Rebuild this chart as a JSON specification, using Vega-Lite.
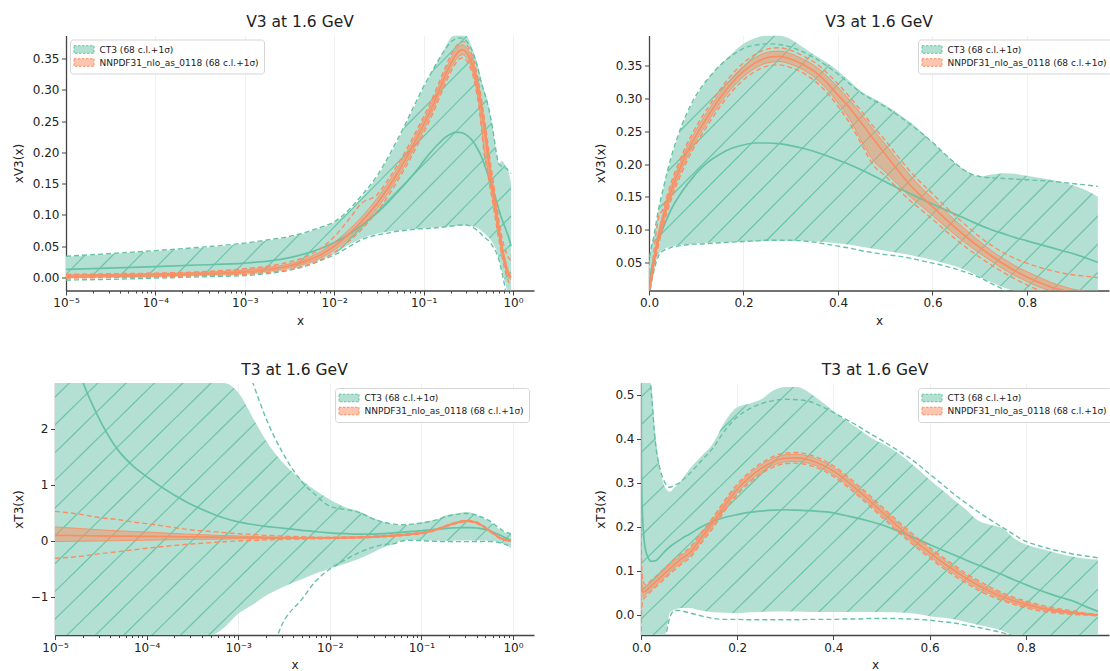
{
"$schema": "https://vega.github.io/schema/vega-lite/v6.json",
"padding": {"left": 12, "top": 14.5, "right": 0, "bottom": 0},
"config": {
 "font": "DejaVu Sans",
 "view": {"stroke": null},
 "title": {"font": "DejaVu Sans", "fontSize": 15.5, "fontWeight": "normal", "color": "#222222", "frame": "group", "anchor": "middle", "offset": 5},
 "axis": {"labelFont": "DejaVu Sans", "labelFontSize": 12, "labelColor": "#222222", "titleFont": "DejaVu Sans", "titleFontSize": 12, "titleFontWeight": "normal", "titleColor": "#222222", "domainColor": "#444444", "domainWidth": 1.3, "tickColor": "#444444", "tickWidth": 1, "tickSize": 4.5, "labelPadding": 2.5, "gridColor": "#ececec", "gridWidth": 0.8, "labelFlush": false, "labelOverlap": false},
 "legend": {"labelFont": "DejaVu Sans", "labelFontSize": 9, "labelColor": "#222222", "symbolType": "M-2,-0.75H2V0.75H-2Z", "symbolSize": 100, "symbolStrokeWidth": 1, "symbolDash": [2.5, 1.5], "symbolOffset": 4, "fillColor": "#ffffff", "strokeColor": "#d5d5d5", "cornerRadius": 3, "padding": 4.5, "rowPadding": 0, "labelOffset": 10, "labelLimit": 300, "symbolOpacity": 1}
},
"datasets": {
 "v3": [
  {"x":1e-5,"c":0.013,"lo":-0.002,"hi":0.033,"dlo":-0.004,"dhi":0.034,"n":0.002,"nlo":0.0,"nhi":0.004,"ndlo":-0.001,"ndhi":0.005},
  {"x":3e-5,"c":0.015,"lo":-0.001,"hi":0.037,"dlo":-0.003,"dhi":0.038,"n":0.003,"nlo":0.001,"nhi":0.005,"ndlo":0.0,"ndhi":0.006},
  {"x":1e-4,"c":0.0175,"lo":0.0,"hi":0.042,"dlo":-0.001,"dhi":0.043,"n":0.004,"nlo":0.002,"nhi":0.006,"ndlo":0.001,"ndhi":0.007},
  {"x":3e-4,"c":0.02,"lo":0.002,"hi":0.047,"dlo":0.001,"dhi":0.048,"n":0.006,"nlo":0.004,"nhi":0.008,"ndlo":0.003,"ndhi":0.009},
  {"x":1e-3,"c":0.023,"lo":0.004,"hi":0.054,"dlo":0.003,"dhi":0.055,"n":0.009,"nlo":0.007,"nhi":0.012,"ndlo":0.005,"ndhi":0.014},
  {"x":2e-3,"c":0.027,"lo":0.008,"hi":0.06,"dlo":0.007,"dhi":0.061,"n":0.014,"nlo":0.011,"nhi":0.017,"ndlo":0.009,"ndhi":0.019},
  {"x":3e-3,"c":0.031,"lo":0.012,"hi":0.064,"dlo":0.011,"dhi":0.065,"n":0.018,"nlo":0.015,"nhi":0.021,"ndlo":0.012,"ndhi":0.024},
  {"x":5e-3,"c":0.039,"lo":0.02,"hi":0.072,"dlo":0.019,"dhi":0.073,"n":0.027,"nlo":0.023,"nhi":0.031,"ndlo":0.02,"ndhi":0.034},
  {"x":7e-3,"c":0.046,"lo":0.028,"hi":0.079,"dlo":0.027,"dhi":0.08,"n":0.036,"nlo":0.031,"nhi":0.041,"ndlo":0.028,"ndhi":0.046},
  {"x":0.01,"c":0.056,"lo":0.038,"hi":0.088,"dlo":0.036,"dhi":0.089,"n":0.05,"nlo":0.044,"nhi":0.056,"ndlo":0.04,"ndhi":0.065},
  {"x":0.015,"c":0.07,"lo":0.053,"hi":0.108,"dlo":0.05,"dhi":0.11,"n":0.071,"nlo":0.064,"nhi":0.078,"ndlo":0.059,"ndhi":0.095},
  {"x":0.02,"c":0.083,"lo":0.062,"hi":0.128,"dlo":0.06,"dhi":0.13,"n":0.089,"nlo":0.082,"nhi":0.096,"ndlo":0.076,"ndhi":0.118},
  {"x":0.03,"c":0.103,"lo":0.07,"hi":0.16,"dlo":0.068,"dhi":0.162,"n":0.118,"nlo":0.11,"nhi":0.126,"ndlo":0.105,"ndhi":0.132},
  {"x":0.04,"c":0.12,"lo":0.073,"hi":0.19,"dlo":0.071,"dhi":0.192,"n":0.143,"nlo":0.135,"nhi":0.151,"ndlo":0.13,"ndhi":0.156},
  {"x":0.05,"c":0.135,"lo":0.075,"hi":0.215,"dlo":0.074,"dhi":0.218,"n":0.165,"nlo":0.157,"nhi":0.173,"ndlo":0.152,"ndhi":0.178},
  {"x":0.06,"c":0.147,"lo":0.076,"hi":0.238,"dlo":0.075,"dhi":0.24,"n":0.184,"nlo":0.176,"nhi":0.192,"ndlo":0.171,"ndhi":0.197},
  {"x":0.07,"c":0.158,"lo":0.077,"hi":0.258,"dlo":0.076,"dhi":0.26,"n":0.201,"nlo":0.193,"nhi":0.209,"ndlo":0.188,"ndhi":0.214},
  {"x":0.08,"c":0.168,"lo":0.078,"hi":0.275,"dlo":0.077,"dhi":0.277,"n":0.217,"nlo":0.209,"nhi":0.225,"ndlo":0.204,"ndhi":0.23},
  {"x":0.09,"c":0.177,"lo":0.078,"hi":0.29,"dlo":0.078,"dhi":0.292,"n":0.231,"nlo":0.223,"nhi":0.239,"ndlo":0.218,"ndhi":0.244},
  {"x":0.1,"c":0.186,"lo":0.079,"hi":0.303,"dlo":0.078,"dhi":0.305,"n":0.244,"nlo":0.236,"nhi":0.252,"ndlo":0.231,"ndhi":0.257},
  {"x":0.125,"c":0.203,"lo":0.08,"hi":0.33,"dlo":0.079,"dhi":0.33,"n":0.273,"nlo":0.265,"nhi":0.281,"ndlo":0.26,"ndhi":0.286},
  {"x":0.15,"c":0.215,"lo":0.081,"hi":0.35,"dlo":0.08,"dhi":0.35,"n":0.3,"nlo":0.292,"nhi":0.308,"ndlo":0.287,"ndhi":0.313},
  {"x":0.175,"c":0.224,"lo":0.081,"hi":0.368,"dlo":0.081,"dhi":0.365,"n":0.323,"nlo":0.315,"nhi":0.331,"ndlo":0.31,"ndhi":0.336},
  {"x":0.2,"c":0.229,"lo":0.082,"hi":0.383,"dlo":0.082,"dhi":0.376,"n":0.341,"nlo":0.333,"nhi":0.349,"ndlo":0.328,"ndhi":0.354},
  {"x":0.225,"c":0.232,"lo":0.082,"hi":0.392,"dlo":0.083,"dhi":0.381,"n":0.354,"nlo":0.346,"nhi":0.362,"ndlo":0.341,"ndhi":0.367},
  {"x":0.25,"c":0.232,"lo":0.083,"hi":0.396,"dlo":0.084,"dhi":0.383,"n":0.362,"nlo":0.354,"nhi":0.37,"ndlo":0.349,"ndhi":0.375},
  {"x":0.275,"c":0.231,"lo":0.083,"hi":0.396,"dlo":0.084,"dhi":0.382,"n":0.364,"nlo":0.356,"nhi":0.372,"ndlo":0.351,"ndhi":0.377},
  {"x":0.3,"c":0.228,"lo":0.083,"hi":0.39,"dlo":0.084,"dhi":0.378,"n":0.36,"nlo":0.352,"nhi":0.368,"ndlo":0.347,"ndhi":0.373},
  {"x":0.325,"c":0.224,"lo":0.083,"hi":0.378,"dlo":0.083,"dhi":0.371,"n":0.352,"nlo":0.344,"nhi":0.36,"ndlo":0.339,"ndhi":0.365},
  {"x":0.35,"c":0.219,"lo":0.082,"hi":0.366,"dlo":0.081,"dhi":0.362,"n":0.341,"nlo":0.332,"nhi":0.35,"ndlo":0.327,"ndhi":0.355},
  {"x":0.375,"c":0.213,"lo":0.081,"hi":0.355,"dlo":0.078,"dhi":0.35,"n":0.325,"nlo":0.315,"nhi":0.335,"ndlo":0.31,"ndhi":0.34},
  {"x":0.4,"c":0.206,"lo":0.079,"hi":0.342,"dlo":0.075,"dhi":0.337,"n":0.305,"nlo":0.293,"nhi":0.317,"ndlo":0.288,"ndhi":0.322},
  {"x":0.425,"c":0.199,"lo":0.077,"hi":0.326,"dlo":0.072,"dhi":0.322,"n":0.285,"nlo":0.268,"nhi":0.297,"ndlo":0.262,"ndhi":0.302},
  {"x":0.45,"c":0.191,"lo":0.074,"hi":0.31,"dlo":0.068,"dhi":0.308,"n":0.262,"nlo":0.235,"nhi":0.275,"ndlo":0.23,"ndhi":0.28},
  {"x":0.475,"c":0.182,"lo":0.071,"hi":0.3,"dlo":0.065,"dhi":0.297,"n":0.238,"nlo":0.205,"nhi":0.252,"ndlo":0.198,"ndhi":0.257},
  {"x":0.5,"c":0.173,"lo":0.068,"hi":0.29,"dlo":0.062,"dhi":0.287,"n":0.215,"nlo":0.188,"nhi":0.23,"ndlo":0.182,"ndhi":0.236},
  {"x":0.525,"c":0.164,"lo":0.065,"hi":0.278,"dlo":0.06,"dhi":0.275,"n":0.192,"nlo":0.17,"nhi":0.207,"ndlo":0.164,"ndhi":0.213},
  {"x":0.55,"c":0.156,"lo":0.062,"hi":0.265,"dlo":0.057,"dhi":0.262,"n":0.17,"nlo":0.152,"nhi":0.185,"ndlo":0.146,"ndhi":0.191},
  {"x":0.575,"c":0.147,"lo":0.058,"hi":0.25,"dlo":0.053,"dhi":0.248,"n":0.152,"nlo":0.137,"nhi":0.165,"ndlo":0.131,"ndhi":0.172},
  {"x":0.6,"c":0.139,"lo":0.054,"hi":0.233,"dlo":0.049,"dhi":0.233,"n":0.135,"nlo":0.122,"nhi":0.148,"ndlo":0.116,"ndhi":0.155},
  {"x":0.625,"c":0.131,"lo":0.049,"hi":0.216,"dlo":0.045,"dhi":0.216,"n":0.118,"nlo":0.106,"nhi":0.13,"ndlo":0.1,"ndhi":0.137},
  {"x":0.65,"c":0.123,"lo":0.044,"hi":0.2,"dlo":0.04,"dhi":0.2,"n":0.102,"nlo":0.091,"nhi":0.113,"ndlo":0.085,"ndhi":0.12},
  {"x":0.675,"c":0.115,"lo":0.037,"hi":0.188,"dlo":0.034,"dhi":0.187,"n":0.087,"nlo":0.077,"nhi":0.097,"ndlo":0.071,"ndhi":0.104},
  {"x":0.7,"c":0.107,"lo":0.028,"hi":0.181,"dlo":0.027,"dhi":0.181,"n":0.073,"nlo":0.064,"nhi":0.082,"ndlo":0.058,"ndhi":0.089},
  {"x":0.725,"c":0.1,"lo":0.02,"hi":0.184,"dlo":0.018,"dhi":0.179,"n":0.06,"nlo":0.052,"nhi":0.068,"ndlo":0.046,"ndhi":0.076},
  {"x":0.75,"c":0.094,"lo":0.012,"hi":0.186,"dlo":0.009,"dhi":0.178,"n":0.048,"nlo":0.04,"nhi":0.056,"ndlo":0.035,"ndhi":0.065},
  {"x":0.775,"c":0.088,"lo":0.005,"hi":0.185,"dlo":0.0,"dhi":0.177,"n":0.037,"nlo":0.03,"nhi":0.045,"ndlo":0.025,"ndhi":0.056},
  {"x":0.8,"c":0.083,"lo":-0.003,"hi":0.182,"dlo":-0.01,"dhi":0.176,"n":0.028,"nlo":0.021,"nhi":0.036,"ndlo":0.016,"ndhi":0.049},
  {"x":0.825,"c":0.078,"lo":-0.01,"hi":0.179,"dlo":-0.02,"dhi":0.175,"n":0.02,"nlo":0.013,"nhi":0.028,"ndlo":0.008,"ndhi":0.043},
  {"x":0.85,"c":0.073,"lo":-0.018,"hi":0.176,"dlo":-0.03,"dhi":0.174,"n":0.013,"nlo":0.007,"nhi":0.02,"ndlo":0.001,"ndhi":0.038},
  {"x":0.875,"c":0.068,"lo":-0.026,"hi":0.172,"dlo":-0.04,"dhi":0.172,"n":0.008,"nlo":0.002,"nhi":0.014,"ndlo":-0.004,"ndhi":0.034},
  {"x":0.9,"c":0.063,"lo":-0.034,"hi":0.167,"dlo":-0.05,"dhi":0.17,"n":0.004,"nlo":-0.001,"nhi":0.009,"ndlo":-0.008,"ndhi":0.031},
  {"x":0.925,"c":0.057,"lo":-0.04,"hi":0.16,"dlo":-0.06,"dhi":0.168,"n":0.002,"nlo":-0.003,"nhi":0.006,"ndlo":-0.01,"ndhi":0.029},
  {"x":0.95,"c":0.05,"lo":-0.045,"hi":0.15,"dlo":-0.07,"dhi":0.166,"n":0.0,"nlo":-0.004,"nhi":0.004,"ndlo":-0.012,"ndhi":0.027}
 ],
 "t3": [
  {"x":1e-5,"c":4.5,"lo":-6,"hi":12,"dlo":-30,"dhi":30,"n":0.1,"nlo":-0.01,"nhi":0.25,"ndlo":-0.31,"ndhi":0.53},
  {"x":2e-5,"c":2.85,"lo":-5.2,"hi":10,"dlo":-25,"dhi":25,"n":0.095,"nlo":-0.005,"nhi":0.22,"ndlo":-0.27,"ndhi":0.47},
  {"x":3e-5,"c":2.2,"lo":-4.7,"hi":9,"dlo":-21,"dhi":21,"n":0.092,"nlo":0.0,"nhi":0.2,"ndlo":-0.23,"ndhi":0.42},
  {"x":5e-5,"c":1.6,"lo":-4.1,"hi":8,"dlo":-17,"dhi":17,"n":0.088,"nlo":0.005,"nhi":0.18,"ndlo":-0.19,"ndhi":0.38},
  {"x":7e-5,"c":1.35,"lo":-3.7,"hi":7.2,"dlo":-15,"dhi":15,"n":0.085,"nlo":0.01,"nhi":0.17,"ndlo":-0.16,"ndhi":0.34},
  {"x":1e-4,"c":1.15,"lo":-3.4,"hi":6.5,"dlo":-12,"dhi":12,"n":0.083,"nlo":0.015,"nhi":0.16,"ndlo":-0.13,"ndhi":0.31},
  {"x":2e-4,"c":0.82,"lo":-2.7,"hi":5.0,"dlo":-9,"dhi":9,"n":0.077,"nlo":0.022,"nhi":0.135,"ndlo":-0.08,"ndhi":0.24},
  {"x":3e-4,"c":0.66,"lo":-2.3,"hi":4.3,"dlo":-7.5,"dhi":7.5,"n":0.073,"nlo":0.026,"nhi":0.12,"ndlo":-0.055,"ndhi":0.2},
  {"x":5e-4,"c":0.5,"lo":-1.9,"hi":3.5,"dlo":-5.5,"dhi":5.5,"n":0.068,"nlo":0.03,"nhi":0.105,"ndlo":-0.03,"ndhi":0.17},
  {"x":7e-4,"c":0.41,"lo":-1.55,"hi":3.05,"dlo":-4.5,"dhi":4.5,"n":0.065,"nlo":0.033,"nhi":0.097,"ndlo":-0.013,"ndhi":0.15},
  {"x":1e-3,"c":0.34,"lo":-1.3,"hi":2.65,"dlo":-3.6,"dhi":3.6,"n":0.062,"nlo":0.036,"nhi":0.09,"ndlo":0.0,"ndhi":0.13},
  {"x":1.5e-3,"c":0.29,"lo":-1.12,"hi":2.15,"dlo":-2.8,"dhi":2.75,"n":0.059,"nlo":0.038,"nhi":0.082,"ndlo":0.01,"ndhi":0.115},
  {"x":2e-3,"c":0.26,"lo":-0.98,"hi":1.8,"dlo":-2.3,"dhi":2.2,"n":0.056,"nlo":0.04,"nhi":0.075,"ndlo":0.02,"ndhi":0.1},
  {"x":3e-3,"c":0.23,"lo":-0.83,"hi":1.42,"dlo":-1.5,"dhi":1.6,"n":0.054,"nlo":0.041,"nhi":0.069,"ndlo":0.027,"ndhi":0.088},
  {"x":5e-3,"c":0.19,"lo":-0.68,"hi":1.08,"dlo":-1.03,"dhi":1.05,"n":0.052,"nlo":0.043,"nhi":0.064,"ndlo":0.035,"ndhi":0.075},
  {"x":7e-3,"c":0.165,"lo":-0.58,"hi":0.9,"dlo":-0.72,"dhi":0.82,"n":0.053,"nlo":0.045,"nhi":0.063,"ndlo":0.039,"ndhi":0.07},
  {"x":0.01,"c":0.145,"lo":-0.49,"hi":0.74,"dlo":-0.5,"dhi":0.62,"n":0.055,"nlo":0.047,"nhi":0.063,"ndlo":0.042,"ndhi":0.068},
  {"x":0.015,"c":0.13,"lo":-0.4,"hi":0.6,"dlo":-0.33,"dhi":0.56,"n":0.06,"nlo":0.052,"nhi":0.068,"ndlo":0.048,"ndhi":0.072},
  {"x":0.02,"c":0.122,"lo":-0.33,"hi":0.54,"dlo":-0.22,"dhi":0.52,"n":0.065,"nlo":0.057,"nhi":0.073,"ndlo":0.053,"ndhi":0.077},
  {"x":0.03,"c":0.123,"lo":-0.2,"hi":0.41,"dlo":-0.11,"dhi":0.39,"n":0.075,"nlo":0.067,"nhi":0.083,"ndlo":0.063,"ndhi":0.087},
  {"x":0.04,"c":0.133,"lo":-0.1,"hi":0.33,"dlo":-0.06,"dhi":0.33,"n":0.085,"nlo":0.077,"nhi":0.093,"ndlo":0.073,"ndhi":0.097},
  {"x":0.05,"c":0.145,"lo":-0.06,"hi":0.29,"dlo":-0.05,"dhi":0.3,"n":0.095,"nlo":0.087,"nhi":0.103,"ndlo":0.083,"ndhi":0.107},
  {"x":0.06,"c":0.155,"lo":0.005,"hi":0.28,"dlo":-0.005,"dhi":0.29,"n":0.105,"nlo":0.097,"nhi":0.113,"ndlo":0.093,"ndhi":0.117},
  {"x":0.07,"c":0.163,"lo":0.012,"hi":0.29,"dlo":0.01,"dhi":0.295,"n":0.115,"nlo":0.107,"nhi":0.123,"ndlo":0.103,"ndhi":0.127},
  {"x":0.08,"c":0.17,"lo":0.015,"hi":0.3,"dlo":0.01,"dhi":0.3,"n":0.124,"nlo":0.116,"nhi":0.132,"ndlo":0.112,"ndhi":0.136},
  {"x":0.09,"c":0.177,"lo":0.016,"hi":0.315,"dlo":0.008,"dhi":0.31,"n":0.132,"nlo":0.124,"nhi":0.14,"ndlo":0.12,"ndhi":0.144},
  {"x":0.1,"c":0.183,"lo":0.016,"hi":0.33,"dlo":0.005,"dhi":0.32,"n":0.14,"nlo":0.132,"nhi":0.148,"ndlo":0.128,"ndhi":0.152},
  {"x":0.125,"c":0.2,"lo":0.01,"hi":0.36,"dlo":-0.002,"dhi":0.35,"n":0.175,"nlo":0.167,"nhi":0.183,"ndlo":0.163,"ndhi":0.187},
  {"x":0.15,"c":0.213,"lo":0.006,"hi":0.39,"dlo":-0.008,"dhi":0.38,"n":0.21,"nlo":0.202,"nhi":0.218,"ndlo":0.198,"ndhi":0.222},
  {"x":0.175,"c":0.222,"lo":0.005,"hi":0.44,"dlo":-0.01,"dhi":0.42,"n":0.25,"nlo":0.242,"nhi":0.258,"ndlo":0.238,"ndhi":0.262},
  {"x":0.2,"c":0.228,"lo":0.004,"hi":0.472,"dlo":-0.01,"dhi":0.45,"n":0.285,"nlo":0.277,"nhi":0.293,"ndlo":0.273,"ndhi":0.297},
  {"x":0.225,"c":0.233,"lo":0.006,"hi":0.48,"dlo":-0.011,"dhi":0.468,"n":0.312,"nlo":0.304,"nhi":0.32,"ndlo":0.3,"ndhi":0.324},
  {"x":0.25,"c":0.236,"lo":0.007,"hi":0.49,"dlo":-0.011,"dhi":0.48,"n":0.333,"nlo":0.325,"nhi":0.341,"ndlo":0.321,"ndhi":0.345},
  {"x":0.275,"c":0.238,"lo":0.008,"hi":0.51,"dlo":-0.011,"dhi":0.487,"n":0.348,"nlo":0.34,"nhi":0.356,"ndlo":0.336,"ndhi":0.36},
  {"x":0.3,"c":0.239,"lo":0.008,"hi":0.518,"dlo":-0.011,"dhi":0.49,"n":0.356,"nlo":0.348,"nhi":0.364,"ndlo":0.344,"ndhi":0.368},
  {"x":0.325,"c":0.238,"lo":0.008,"hi":0.518,"dlo":-0.011,"dhi":0.489,"n":0.357,"nlo":0.349,"nhi":0.365,"ndlo":0.345,"ndhi":0.369},
  {"x":0.35,"c":0.237,"lo":0.007,"hi":0.505,"dlo":-0.01,"dhi":0.485,"n":0.352,"nlo":0.344,"nhi":0.36,"ndlo":0.34,"ndhi":0.364},
  {"x":0.375,"c":0.235,"lo":0.007,"hi":0.485,"dlo":-0.01,"dhi":0.474,"n":0.342,"nlo":0.334,"nhi":0.35,"ndlo":0.33,"ndhi":0.354},
  {"x":0.4,"c":0.232,"lo":0.007,"hi":0.463,"dlo":-0.01,"dhi":0.46,"n":0.327,"nlo":0.319,"nhi":0.335,"ndlo":0.315,"ndhi":0.339},
  {"x":0.425,"c":0.226,"lo":0.007,"hi":0.443,"dlo":-0.009,"dhi":0.445,"n":0.307,"nlo":0.299,"nhi":0.315,"ndlo":0.295,"ndhi":0.319},
  {"x":0.45,"c":0.22,"lo":0.007,"hi":0.425,"dlo":-0.009,"dhi":0.43,"n":0.284,"nlo":0.276,"nhi":0.292,"ndlo":0.272,"ndhi":0.296},
  {"x":0.475,"c":0.213,"lo":0.007,"hi":0.405,"dlo":-0.008,"dhi":0.413,"n":0.26,"nlo":0.252,"nhi":0.268,"ndlo":0.248,"ndhi":0.272},
  {"x":0.5,"c":0.205,"lo":0.007,"hi":0.39,"dlo":-0.008,"dhi":0.397,"n":0.235,"nlo":0.227,"nhi":0.243,"ndlo":0.223,"ndhi":0.247},
  {"x":0.525,"c":0.195,"lo":0.006,"hi":0.375,"dlo":-0.008,"dhi":0.38,"n":0.21,"nlo":0.202,"nhi":0.218,"ndlo":0.198,"ndhi":0.222},
  {"x":0.55,"c":0.184,"lo":0.005,"hi":0.355,"dlo":-0.009,"dhi":0.363,"n":0.186,"nlo":0.178,"nhi":0.194,"ndlo":0.174,"ndhi":0.198},
  {"x":0.575,"c":0.172,"lo":0.002,"hi":0.332,"dlo":-0.01,"dhi":0.343,"n":0.163,"nlo":0.155,"nhi":0.171,"ndlo":0.151,"ndhi":0.175},
  {"x":0.6,"c":0.16,"lo":-0.003,"hi":0.307,"dlo":-0.012,"dhi":0.32,"n":0.142,"nlo":0.134,"nhi":0.15,"ndlo":0.13,"ndhi":0.154},
  {"x":0.625,"c":0.148,"lo":-0.006,"hi":0.285,"dlo":-0.015,"dhi":0.298,"n":0.121,"nlo":0.113,"nhi":0.129,"ndlo":0.109,"ndhi":0.133},
  {"x":0.65,"c":0.137,"lo":-0.01,"hi":0.262,"dlo":-0.018,"dhi":0.275,"n":0.102,"nlo":0.094,"nhi":0.11,"ndlo":0.09,"ndhi":0.114},
  {"x":0.675,"c":0.125,"lo":-0.016,"hi":0.24,"dlo":-0.023,"dhi":0.255,"n":0.084,"nlo":0.077,"nhi":0.091,"ndlo":0.073,"ndhi":0.095},
  {"x":0.7,"c":0.114,"lo":-0.022,"hi":0.215,"dlo":-0.028,"dhi":0.235,"n":0.068,"nlo":0.061,"nhi":0.075,"ndlo":0.057,"ndhi":0.079},
  {"x":0.725,"c":0.103,"lo":-0.028,"hi":0.205,"dlo":-0.034,"dhi":0.217,"n":0.054,"nlo":0.048,"nhi":0.06,"ndlo":0.044,"ndhi":0.064},
  {"x":0.75,"c":0.092,"lo":-0.035,"hi":0.198,"dlo":-0.04,"dhi":0.2,"n":0.042,"nlo":0.036,"nhi":0.048,"ndlo":0.033,"ndhi":0.051},
  {"x":0.775,"c":0.08,"lo":-0.045,"hi":0.175,"dlo":-0.048,"dhi":0.183,"n":0.032,"nlo":0.027,"nhi":0.037,"ndlo":0.024,"ndhi":0.04},
  {"x":0.8,"c":0.069,"lo":-0.055,"hi":0.16,"dlo":-0.055,"dhi":0.167,"n":0.024,"nlo":0.019,"nhi":0.029,"ndlo":0.016,"ndhi":0.032},
  {"x":0.825,"c":0.058,"lo":-0.063,"hi":0.152,"dlo":-0.062,"dhi":0.158,"n":0.017,"nlo":0.013,"nhi":0.021,"ndlo":0.01,"ndhi":0.024},
  {"x":0.85,"c":0.048,"lo":-0.07,"hi":0.145,"dlo":-0.07,"dhi":0.15,"n":0.012,"nlo":0.009,"nhi":0.015,"ndlo":0.006,"ndhi":0.018},
  {"x":0.875,"c":0.039,"lo":-0.08,"hi":0.138,"dlo":-0.077,"dhi":0.144,"n":0.008,"nlo":0.005,"nhi":0.011,"ndlo":0.003,"ndhi":0.013},
  {"x":0.9,"c":0.031,"lo":-0.1,"hi":0.132,"dlo":-0.085,"dhi":0.138,"n":0.005,"nlo":0.003,"nhi":0.007,"ndlo":0.001,"ndhi":0.009},
  {"x":0.925,"c":0.019,"lo":-0.12,"hi":0.128,"dlo":-0.092,"dhi":0.134,"n":0.002,"nlo":0.001,"nhi":0.003,"ndlo":0.0,"ndhi":0.004},
  {"x":0.95,"c":0.008,"lo":-0.14,"hi":0.126,"dlo":-0.1,"dhi":0.13,"n":0.0,"nlo":-0.001,"nhi":0.001,"ndlo":-0.002,"ndhi":0.002}
 ]
},
"spacing": 35.5,
"resolve": {"scale": {"color": "independent"}, "legend": {"color": "independent"}},
"vconcat": [
 {
  "spacing": 60,
  "resolve": {"scale": {"color": "independent"}, "legend": {"color": "independent"}},
  "hconcat": [
   {
    "bounds": "flush",
    "spacing": 10,
    "resolve": {"scale": {"color": "independent"}, "legend": {"color": "independent"}},
    "hconcat": [
     {"width": 1, "height": 1, "data": {"values": []}, "mark": "point"},
     {
      "width": 468, "height": 255,
      "title": "V3 at 1.6 GeV",
      "data": {"name": "v3"},
      "encoding": {"x": {"field": "x", "type": "quantitative",
        "scale": {"type": "log", "domain": [1e-5, 1.718], "nice": false},
        "axis": {"title": "x", "titleY": 30, "titleBaseline": "middle",
          "values": [1e-5,2e-5,3e-5,4e-5,5e-5,6e-5,7e-5,8e-5,9e-5,1e-4,2e-4,3e-4,4e-4,5e-4,6e-4,7e-4,8e-4,9e-4,1e-3,2e-3,3e-3,4e-3,5e-3,6e-3,7e-3,8e-3,9e-3,0.01,0.02,0.03,0.04,0.05,0.06,0.07,0.08,0.09,0.1,0.2,0.3,0.4,0.5,0.6,0.7,0.8,0.9,1],
          "labelExpr": "abs(log(datum.value)/LN10 - round(log(datum.value)/LN10)) < 0.001 ? '10' + ['⁻⁵','⁻⁴','⁻³','⁻²','⁻¹','⁰'][round(log(datum.value)/LN10)+5] : ''",
          "tickSize": {"condition": {"test": "abs(log(datum.value)/LN10 - round(log(datum.value)/LN10)) < 0.001", "value": 4.5}, "value": 2.5},
          "gridOpacity": {"condition": {"test": "abs(log(datum.value)/LN10 - round(log(datum.value)/LN10)) < 0.001", "value": 1}, "value": 0}}}},
      "layer": [
       {"layer": [
        {"mark": {"type": "area", "clip": true, "interpolate": "monotone", "fill": {"gradient": "linear", "x1": 0, "y1": 0, "x2": 1.197, "y2": 0.676, "stops": [
  {"offset":0,"color":"#b3e0d2"},
  {"offset":0.0178,"color":"#b3e0d2"},{"offset":0.02,"color":"#66c2a5"},{"offset":0.0222,"color":"#b3e0d2"},
  {"offset":0.0572,"color":"#b3e0d2"},{"offset":0.0594,"color":"#66c2a5"},{"offset":0.0616,"color":"#b3e0d2"},
  {"offset":0.0966,"color":"#b3e0d2"},{"offset":0.0988,"color":"#66c2a5"},{"offset":0.101,"color":"#b3e0d2"},
  {"offset":0.136,"color":"#b3e0d2"},{"offset":0.1382,"color":"#66c2a5"},{"offset":0.1404,"color":"#b3e0d2"},
  {"offset":0.1754,"color":"#b3e0d2"},{"offset":0.1776,"color":"#66c2a5"},{"offset":0.1798,"color":"#b3e0d2"},
  {"offset":0.2148,"color":"#b3e0d2"},{"offset":0.217,"color":"#66c2a5"},{"offset":0.2192,"color":"#b3e0d2"},
  {"offset":0.2542,"color":"#b3e0d2"},{"offset":0.2564,"color":"#66c2a5"},{"offset":0.2586,"color":"#b3e0d2"},
  {"offset":0.2936,"color":"#b3e0d2"},{"offset":0.2958,"color":"#66c2a5"},{"offset":0.298,"color":"#b3e0d2"},
  {"offset":0.333,"color":"#b3e0d2"},{"offset":0.3352,"color":"#66c2a5"},{"offset":0.3374,"color":"#b3e0d2"},
  {"offset":0.3724,"color":"#b3e0d2"},{"offset":0.3746,"color":"#66c2a5"},{"offset":0.3768,"color":"#b3e0d2"},
  {"offset":0.4118,"color":"#b3e0d2"},{"offset":0.414,"color":"#66c2a5"},{"offset":0.4162,"color":"#b3e0d2"},
  {"offset":0.4512,"color":"#b3e0d2"},{"offset":0.4534,"color":"#66c2a5"},{"offset":0.4556,"color":"#b3e0d2"},
  {"offset":0.4906,"color":"#b3e0d2"},{"offset":0.4928,"color":"#66c2a5"},{"offset":0.495,"color":"#b3e0d2"},
  {"offset":0.53,"color":"#b3e0d2"},{"offset":0.5322,"color":"#66c2a5"},{"offset":0.5344,"color":"#b3e0d2"},
  {"offset":0.5694,"color":"#b3e0d2"},{"offset":0.5716,"color":"#66c2a5"},{"offset":0.5738,"color":"#b3e0d2"},
  {"offset":0.6088,"color":"#b3e0d2"},{"offset":0.611,"color":"#66c2a5"},{"offset":0.6132,"color":"#b3e0d2"},
  {"offset":0.6482,"color":"#b3e0d2"},{"offset":0.6504,"color":"#66c2a5"},{"offset":0.6526,"color":"#b3e0d2"},
  {"offset":0.6876,"color":"#b3e0d2"},{"offset":0.6898,"color":"#66c2a5"},{"offset":0.692,"color":"#b3e0d2"},
  {"offset":0.727,"color":"#b3e0d2"},{"offset":0.7292,"color":"#66c2a5"},{"offset":0.7314,"color":"#b3e0d2"},
  {"offset":0.7664,"color":"#b3e0d2"},{"offset":0.7686,"color":"#66c2a5"},{"offset":0.7708,"color":"#b3e0d2"},
  {"offset":0.8058,"color":"#b3e0d2"},{"offset":0.808,"color":"#66c2a5"},{"offset":0.8102,"color":"#b3e0d2"},
  {"offset":0.8452,"color":"#b3e0d2"},{"offset":0.8474,"color":"#66c2a5"},{"offset":0.8496,"color":"#b3e0d2"},
  {"offset":0.8846,"color":"#b3e0d2"},{"offset":0.8868,"color":"#66c2a5"},{"offset":0.889,"color":"#b3e0d2"},
  {"offset":0.924,"color":"#b3e0d2"},{"offset":0.9262,"color":"#66c2a5"},{"offset":0.9284,"color":"#b3e0d2"},
  {"offset":0.9634,"color":"#b3e0d2"},{"offset":0.9656,"color":"#66c2a5"},{"offset":0.9678,"color":"#b3e0d2"},
  {"offset":1,"color":"#b3e0d2"}]}},
         "encoding": {"y": {"field": "lo", "type": "quantitative", "scale": {"domain": [-0.0208, 0.3868], "nice": false, "zero": false, "clamp": true}, "axis": null}, "y2": {"field": "hi"}}},
        {"mark": {"type": "area", "fill": "#fc8d62", "opacity": 0.5, "clip": true, "interpolate": "monotone"},
         "encoding": {"y": {"field": "nlo", "type": "quantitative", "axis": null}, "y2": {"field": "nhi"}}}
       ]},
       {"layer": [
        {"mark": {"type": "line", "clip": true, "interpolate": "monotone", "color": "#66c2a5", "strokeWidth": 1.4, "strokeDash": [5, 3]},
         "encoding": {"y": {"field": "dlo", "type": "quantitative", "scale": {"domain": [-0.0208, 0.3868], "nice": false, "zero": false}, "axis": null}}},
        {"mark": {"type": "line", "clip": true, "interpolate": "monotone", "color": "#66c2a5", "strokeWidth": 1.4, "strokeDash": [5, 3]}, "encoding": {"y": {"field": "dhi", "type": "quantitative", "axis": null}}},
        {"mark": {"type": "line", "clip": true, "interpolate": "monotone", "color": "#66c2a5", "strokeWidth": 1.7}, "encoding": {"y": {"field": "c", "type": "quantitative", "axis": null}}},
        {"mark": {"type": "line", "clip": true, "interpolate": "monotone", "color": "#fc8d62", "strokeWidth": 0.9}, "encoding": {"y": {"field": "nlo", "type": "quantitative", "axis": null}}},
        {"mark": {"type": "line", "clip": true, "interpolate": "monotone", "color": "#fc8d62", "strokeWidth": 0.9}, "encoding": {"y": {"field": "nhi", "type": "quantitative", "axis": null}}},
        {"mark": {"type": "line", "clip": true, "interpolate": "monotone", "color": "#fc8d62", "strokeWidth": 1.4, "strokeDash": [5, 3]}, "encoding": {"y": {"field": "ndlo", "type": "quantitative", "axis": null}}},
        {"mark": {"type": "line", "clip": true, "interpolate": "monotone", "color": "#fc8d62", "strokeWidth": 1.4, "strokeDash": [5, 3]}, "encoding": {"y": {"field": "ndhi", "type": "quantitative", "axis": null}}},
        {"mark": {"type": "line", "clip": true, "interpolate": "monotone", "color": "#fc8d62", "strokeWidth": 1.7}, "encoding": {"y": {"field": "n", "type": "quantitative", "axis": null}}},
        {"data": {"values": []}, "mark": {"type": "point", "filled": true, "opacity": 1},
         "encoding": {"color": {"datum": "CT3 (68 c.l.+1σ)", "type": "nominal",
           "scale": {"domain": ["CT3 (68 c.l.+1σ)", "NNPDF31_nlo_as_0118 (68 c.l.+1σ)"], "range": ["#b3e0d2", "#fdc6b0"]},
           "legend": {"title": null, "orient": "none", "legendX": 4, "legendY": 4,
             "encode": {"symbols": {"update": {"stroke": {"signal": "indexof(datum.value, 'CT3') === 0 ? '#66c2a5' : '#fc8d62'"}}}}}}}}
       ]},
       {"data": {"values": []}, "mark": {"type": "point"},
        "encoding": {"y": {"field": "c", "type": "quantitative", "scale": {"domain": [-0.0208, 0.3868], "nice": false, "zero": false},
          "axis": {"title": "xV3(x)", "orient": "left", "values": [0,0.05,0.1,0.15,0.2,0.25,0.3,0.35], "format": ".2f", "labelOverlap": false, "tickCount": 8, "titleX": -48, "titleY": 127.5, "titleBaseline": "middle", "titleAngle": -90}}}}
      ],
      "resolve": {"scale": {"y": "independent"}}
     }
    ]
   },
   {
    "width": 460, "height": 255,
    "title": "V3 at 1.6 GeV",
    "data": {"name": "v3"},
    "encoding": {"x": {"field": "x", "type": "quantitative",
      "scale": {"domain": [0, 0.9736], "nice": false, "zero": false},
      "axis": {"title": "x", "titleY": 30, "titleBaseline": "middle", "values": [0, 0.2, 0.4, 0.6, 0.8], "format": ".1f"}}},
    "layer": [
     {"layer": [
      {"mark": {"type": "area", "clip": true, "interpolate": "monotone", "fill": {"gradient": "linear", "x1": 0, "y1": 0, "x2": 1.197, "y2": 0.676, "stops": [
  {"offset":0,"color":"#b3e0d2"},
  {"offset":0.0178,"color":"#b3e0d2"},{"offset":0.02,"color":"#66c2a5"},{"offset":0.0222,"color":"#b3e0d2"},
  {"offset":0.0572,"color":"#b3e0d2"},{"offset":0.0594,"color":"#66c2a5"},{"offset":0.0616,"color":"#b3e0d2"},
  {"offset":0.0966,"color":"#b3e0d2"},{"offset":0.0988,"color":"#66c2a5"},{"offset":0.101,"color":"#b3e0d2"},
  {"offset":0.136,"color":"#b3e0d2"},{"offset":0.1382,"color":"#66c2a5"},{"offset":0.1404,"color":"#b3e0d2"},
  {"offset":0.1754,"color":"#b3e0d2"},{"offset":0.1776,"color":"#66c2a5"},{"offset":0.1798,"color":"#b3e0d2"},
  {"offset":0.2148,"color":"#b3e0d2"},{"offset":0.217,"color":"#66c2a5"},{"offset":0.2192,"color":"#b3e0d2"},
  {"offset":0.2542,"color":"#b3e0d2"},{"offset":0.2564,"color":"#66c2a5"},{"offset":0.2586,"color":"#b3e0d2"},
  {"offset":0.2936,"color":"#b3e0d2"},{"offset":0.2958,"color":"#66c2a5"},{"offset":0.298,"color":"#b3e0d2"},
  {"offset":0.333,"color":"#b3e0d2"},{"offset":0.3352,"color":"#66c2a5"},{"offset":0.3374,"color":"#b3e0d2"},
  {"offset":0.3724,"color":"#b3e0d2"},{"offset":0.3746,"color":"#66c2a5"},{"offset":0.3768,"color":"#b3e0d2"},
  {"offset":0.4118,"color":"#b3e0d2"},{"offset":0.414,"color":"#66c2a5"},{"offset":0.4162,"color":"#b3e0d2"},
  {"offset":0.4512,"color":"#b3e0d2"},{"offset":0.4534,"color":"#66c2a5"},{"offset":0.4556,"color":"#b3e0d2"},
  {"offset":0.4906,"color":"#b3e0d2"},{"offset":0.4928,"color":"#66c2a5"},{"offset":0.495,"color":"#b3e0d2"},
  {"offset":0.53,"color":"#b3e0d2"},{"offset":0.5322,"color":"#66c2a5"},{"offset":0.5344,"color":"#b3e0d2"},
  {"offset":0.5694,"color":"#b3e0d2"},{"offset":0.5716,"color":"#66c2a5"},{"offset":0.5738,"color":"#b3e0d2"},
  {"offset":0.6088,"color":"#b3e0d2"},{"offset":0.611,"color":"#66c2a5"},{"offset":0.6132,"color":"#b3e0d2"},
  {"offset":0.6482,"color":"#b3e0d2"},{"offset":0.6504,"color":"#66c2a5"},{"offset":0.6526,"color":"#b3e0d2"},
  {"offset":0.6876,"color":"#b3e0d2"},{"offset":0.6898,"color":"#66c2a5"},{"offset":0.692,"color":"#b3e0d2"},
  {"offset":0.727,"color":"#b3e0d2"},{"offset":0.7292,"color":"#66c2a5"},{"offset":0.7314,"color":"#b3e0d2"},
  {"offset":0.7664,"color":"#b3e0d2"},{"offset":0.7686,"color":"#66c2a5"},{"offset":0.7708,"color":"#b3e0d2"},
  {"offset":0.8058,"color":"#b3e0d2"},{"offset":0.808,"color":"#66c2a5"},{"offset":0.8102,"color":"#b3e0d2"},
  {"offset":0.8452,"color":"#b3e0d2"},{"offset":0.8474,"color":"#66c2a5"},{"offset":0.8496,"color":"#b3e0d2"},
  {"offset":0.8846,"color":"#b3e0d2"},{"offset":0.8868,"color":"#66c2a5"},{"offset":0.889,"color":"#b3e0d2"},
  {"offset":0.924,"color":"#b3e0d2"},{"offset":0.9262,"color":"#66c2a5"},{"offset":0.9284,"color":"#b3e0d2"},
  {"offset":0.9634,"color":"#b3e0d2"},{"offset":0.9656,"color":"#66c2a5"},{"offset":0.9678,"color":"#b3e0d2"},
  {"offset":1,"color":"#b3e0d2"}]}},
       "encoding": {"y": {"field": "lo", "type": "quantitative", "scale": {"domain": [0.0074, 0.3957], "nice": false, "zero": false, "clamp": true}, "axis": null}, "y2": {"field": "hi"}}},
      {"mark": {"type": "area", "fill": "#fc8d62", "opacity": 0.5, "clip": true, "interpolate": "monotone"},
       "encoding": {"y": {"field": "nlo", "type": "quantitative", "axis": null}, "y2": {"field": "nhi"}}}
     ]},
     {"layer": [
      {"mark": {"type": "line", "clip": true, "interpolate": "monotone", "color": "#66c2a5", "strokeWidth": 1.4, "strokeDash": [5, 3]},
       "encoding": {"y": {"field": "dlo", "type": "quantitative", "scale": {"domain": [0.0074, 0.3957], "nice": false, "zero": false},
         "axis": {"title": "xV3(x)", "orient": "left", "values": [0.05,0.1,0.15,0.2,0.25,0.3,0.35], "format": ".2f", "labelOverlap": false, "titleX": -49, "titleY": 127.5, "titleBaseline": "middle", "titleAngle": -90}}}},
      {"mark": {"type": "line", "clip": true, "interpolate": "monotone", "color": "#66c2a5", "strokeWidth": 1.4, "strokeDash": [5, 3]}, "encoding": {"y": {"field": "dhi", "type": "quantitative"}}},
      {"mark": {"type": "line", "clip": true, "interpolate": "monotone", "color": "#66c2a5", "strokeWidth": 1.7}, "encoding": {"y": {"field": "c", "type": "quantitative"}}},
      {"mark": {"type": "line", "clip": true, "interpolate": "monotone", "color": "#fc8d62", "strokeWidth": 0.9}, "encoding": {"y": {"field": "nlo", "type": "quantitative"}}},
      {"mark": {"type": "line", "clip": true, "interpolate": "monotone", "color": "#fc8d62", "strokeWidth": 0.9}, "encoding": {"y": {"field": "nhi", "type": "quantitative"}}},
      {"mark": {"type": "line", "clip": true, "interpolate": "monotone", "color": "#fc8d62", "strokeWidth": 1.4, "strokeDash": [5, 3]}, "encoding": {"y": {"field": "ndlo", "type": "quantitative"}}},
      {"mark": {"type": "line", "clip": true, "interpolate": "monotone", "color": "#fc8d62", "strokeWidth": 1.4, "strokeDash": [5, 3]}, "encoding": {"y": {"field": "ndhi", "type": "quantitative"}}},
      {"mark": {"type": "line", "clip": true, "interpolate": "monotone", "color": "#fc8d62", "strokeWidth": 1.7}, "encoding": {"y": {"field": "n", "type": "quantitative"}}},
      {"data": {"values": []}, "mark": {"type": "point", "filled": true, "opacity": 1},
       "encoding": {"color": {"datum": "CT3 (68 c.l.+1σ)", "type": "nominal",
         "scale": {"domain": ["CT3 (68 c.l.+1σ)", "NNPDF31_nlo_as_0118 (68 c.l.+1σ)"], "range": ["#b3e0d2", "#fdc6b0"]},
         "legend": {"title": null, "orient": "none", "legendX": 269, "legendY": 4,
           "encode": {"symbols": {"update": {"stroke": {"signal": "indexof(datum.value, 'CT3') === 0 ? '#66c2a5' : '#fc8d62'"}}}}}}}}
     ]}
    ],
    "resolve": {"scale": {"y": "independent"}}
   }
  ]
 },
 {
  "bounds": "flush",
  "spacing": 107,
  "resolve": {"scale": {"color": "independent"}, "legend": {"color": "independent"}},
  "hconcat": [
   {
    "width": 479, "height": 252,
    "title": "T3 at 1.6 GeV",
    "data": {"name": "t3"},
    "encoding": {"x": {"field": "x", "type": "quantitative",
      "scale": {"type": "log", "domain": [1e-5, 1.695], "nice": false},
      "axis": {"title": "x", "titleY": 29, "titleBaseline": "middle",
        "values": [1e-5,2e-5,3e-5,4e-5,5e-5,6e-5,7e-5,8e-5,9e-5,1e-4,2e-4,3e-4,4e-4,5e-4,6e-4,7e-4,8e-4,9e-4,1e-3,2e-3,3e-3,4e-3,5e-3,6e-3,7e-3,8e-3,9e-3,0.01,0.02,0.03,0.04,0.05,0.06,0.07,0.08,0.09,0.1,0.2,0.3,0.4,0.5,0.6,0.7,0.8,0.9,1],
        "labelExpr": "abs(log(datum.value)/LN10 - round(log(datum.value)/LN10)) < 0.001 ? '10' + ['⁻⁵','⁻⁴','⁻³','⁻²','⁻¹','⁰'][round(log(datum.value)/LN10)+5] : ''",
        "tickSize": {"condition": {"test": "abs(log(datum.value)/LN10 - round(log(datum.value)/LN10)) < 0.001", "value": 4.5}, "value": 2.5},
        "gridOpacity": {"condition": {"test": "abs(log(datum.value)/LN10 - round(log(datum.value)/LN10)) < 0.001", "value": 1}, "value": 0}}}},
    "layer": [
     {"layer": [
      {"mark": {"type": "area", "clip": true, "interpolate": "monotone", "fill": {"gradient": "linear", "x1": 0, "y1": 0, "x2": 1.197, "y2": 0.676, "stops": [
  {"offset":0,"color":"#b3e0d2"},
  {"offset":0.0178,"color":"#b3e0d2"},{"offset":0.02,"color":"#66c2a5"},{"offset":0.0222,"color":"#b3e0d2"},
  {"offset":0.0572,"color":"#b3e0d2"},{"offset":0.0594,"color":"#66c2a5"},{"offset":0.0616,"color":"#b3e0d2"},
  {"offset":0.0966,"color":"#b3e0d2"},{"offset":0.0988,"color":"#66c2a5"},{"offset":0.101,"color":"#b3e0d2"},
  {"offset":0.136,"color":"#b3e0d2"},{"offset":0.1382,"color":"#66c2a5"},{"offset":0.1404,"color":"#b3e0d2"},
  {"offset":0.1754,"color":"#b3e0d2"},{"offset":0.1776,"color":"#66c2a5"},{"offset":0.1798,"color":"#b3e0d2"},
  {"offset":0.2148,"color":"#b3e0d2"},{"offset":0.217,"color":"#66c2a5"},{"offset":0.2192,"color":"#b3e0d2"},
  {"offset":0.2542,"color":"#b3e0d2"},{"offset":0.2564,"color":"#66c2a5"},{"offset":0.2586,"color":"#b3e0d2"},
  {"offset":0.2936,"color":"#b3e0d2"},{"offset":0.2958,"color":"#66c2a5"},{"offset":0.298,"color":"#b3e0d2"},
  {"offset":0.333,"color":"#b3e0d2"},{"offset":0.3352,"color":"#66c2a5"},{"offset":0.3374,"color":"#b3e0d2"},
  {"offset":0.3724,"color":"#b3e0d2"},{"offset":0.3746,"color":"#66c2a5"},{"offset":0.3768,"color":"#b3e0d2"},
  {"offset":0.4118,"color":"#b3e0d2"},{"offset":0.414,"color":"#66c2a5"},{"offset":0.4162,"color":"#b3e0d2"},
  {"offset":0.4512,"color":"#b3e0d2"},{"offset":0.4534,"color":"#66c2a5"},{"offset":0.4556,"color":"#b3e0d2"},
  {"offset":0.4906,"color":"#b3e0d2"},{"offset":0.4928,"color":"#66c2a5"},{"offset":0.495,"color":"#b3e0d2"},
  {"offset":0.53,"color":"#b3e0d2"},{"offset":0.5322,"color":"#66c2a5"},{"offset":0.5344,"color":"#b3e0d2"},
  {"offset":0.5694,"color":"#b3e0d2"},{"offset":0.5716,"color":"#66c2a5"},{"offset":0.5738,"color":"#b3e0d2"},
  {"offset":0.6088,"color":"#b3e0d2"},{"offset":0.611,"color":"#66c2a5"},{"offset":0.6132,"color":"#b3e0d2"},
  {"offset":0.6482,"color":"#b3e0d2"},{"offset":0.6504,"color":"#66c2a5"},{"offset":0.6526,"color":"#b3e0d2"},
  {"offset":0.6876,"color":"#b3e0d2"},{"offset":0.6898,"color":"#66c2a5"},{"offset":0.692,"color":"#b3e0d2"},
  {"offset":0.727,"color":"#b3e0d2"},{"offset":0.7292,"color":"#66c2a5"},{"offset":0.7314,"color":"#b3e0d2"},
  {"offset":0.7664,"color":"#b3e0d2"},{"offset":0.7686,"color":"#66c2a5"},{"offset":0.7708,"color":"#b3e0d2"},
  {"offset":0.8058,"color":"#b3e0d2"},{"offset":0.808,"color":"#66c2a5"},{"offset":0.8102,"color":"#b3e0d2"},
  {"offset":0.8452,"color":"#b3e0d2"},{"offset":0.8474,"color":"#66c2a5"},{"offset":0.8496,"color":"#b3e0d2"},
  {"offset":0.8846,"color":"#b3e0d2"},{"offset":0.8868,"color":"#66c2a5"},{"offset":0.889,"color":"#b3e0d2"},
  {"offset":0.924,"color":"#b3e0d2"},{"offset":0.9262,"color":"#66c2a5"},{"offset":0.9284,"color":"#b3e0d2"},
  {"offset":0.9634,"color":"#b3e0d2"},{"offset":0.9656,"color":"#66c2a5"},{"offset":0.9678,"color":"#b3e0d2"},
  {"offset":1,"color":"#b3e0d2"}]}},
       "encoding": {"y": {"field": "lo", "type": "quantitative", "scale": {"domain": [-1.679, 2.821], "nice": false, "zero": false, "clamp": true}, "axis": null}, "y2": {"field": "hi"}}},
      {"mark": {"type": "area", "fill": "#fc8d62", "opacity": 0.5, "clip": true, "interpolate": "monotone"},
       "encoding": {"y": {"field": "nlo", "type": "quantitative", "axis": null}, "y2": {"field": "nhi"}}}
     ]},
     {"layer": [
      {"mark": {"type": "line", "clip": true, "interpolate": "monotone", "color": "#66c2a5", "strokeWidth": 1.4, "strokeDash": [5, 3]},
       "encoding": {"y": {"field": "dlo", "type": "quantitative", "scale": {"domain": [-1.679, 2.821], "nice": false, "zero": false},
         "axis": {"title": "xT3(x)", "orient": "left", "values": [-1, 0, 1, 2], "format": "d", "labelOverlap": false, "titleX": -37, "titleY": 126, "titleBaseline": "middle", "titleAngle": -90}}}},
      {"mark": {"type": "line", "clip": true, "interpolate": "monotone", "color": "#66c2a5", "strokeWidth": 1.4, "strokeDash": [5, 3]}, "encoding": {"y": {"field": "dhi", "type": "quantitative"}}},
      {"mark": {"type": "line", "clip": true, "interpolate": "monotone", "color": "#66c2a5", "strokeWidth": 1.7}, "encoding": {"y": {"field": "c", "type": "quantitative"}}},
      {"mark": {"type": "line", "clip": true, "interpolate": "monotone", "color": "#fc8d62", "strokeWidth": 0.9}, "encoding": {"y": {"field": "nlo", "type": "quantitative"}}},
      {"mark": {"type": "line", "clip": true, "interpolate": "monotone", "color": "#fc8d62", "strokeWidth": 0.9}, "encoding": {"y": {"field": "nhi", "type": "quantitative"}}},
      {"mark": {"type": "line", "clip": true, "interpolate": "monotone", "color": "#fc8d62", "strokeWidth": 1.4, "strokeDash": [5, 3]}, "encoding": {"y": {"field": "ndlo", "type": "quantitative"}}},
      {"mark": {"type": "line", "clip": true, "interpolate": "monotone", "color": "#fc8d62", "strokeWidth": 1.4, "strokeDash": [5, 3]}, "encoding": {"y": {"field": "ndhi", "type": "quantitative"}}},
      {"mark": {"type": "line", "clip": true, "interpolate": "monotone", "color": "#fc8d62", "strokeWidth": 1.7}, "encoding": {"y": {"field": "n", "type": "quantitative"}}},
      {"data": {"values": []}, "mark": {"type": "point", "filled": true, "opacity": 1},
       "encoding": {"color": {"datum": "CT3 (68 c.l.+1σ)", "type": "nominal",
         "scale": {"domain": ["CT3 (68 c.l.+1σ)", "NNPDF31_nlo_as_0118 (68 c.l.+1σ)"], "range": ["#b3e0d2", "#fdc6b0"]},
         "legend": {"title": null, "orient": "none", "legendX": 280, "legendY": 5,
           "encode": {"symbols": {"update": {"stroke": {"signal": "indexof(datum.value, 'CT3') === 0 ? '#66c2a5' : '#fc8d62'"}}}}}}}}
     ]}
    ],
    "resolve": {"scale": {"y": "independent"}}
   },
   {
    "width": 468, "height": 252,
    "title": "T3 at 1.6 GeV",
    "data": {"name": "t3"},
    "encoding": {"x": {"field": "x", "type": "quantitative",
      "scale": {"domain": [0, 0.973], "nice": false, "zero": false},
      "axis": {"title": "x", "titleY": 29, "titleBaseline": "middle", "values": [0, 0.2, 0.4, 0.6, 0.8], "format": ".1f"}}},
    "layer": [
     {"layer": [
      {"mark": {"type": "area", "clip": true, "interpolate": "monotone", "fill": {"gradient": "linear", "x1": 0, "y1": 0, "x2": 1.197, "y2": 0.676, "stops": [
  {"offset":0,"color":"#b3e0d2"},
  {"offset":0.0178,"color":"#b3e0d2"},{"offset":0.02,"color":"#66c2a5"},{"offset":0.0222,"color":"#b3e0d2"},
  {"offset":0.0572,"color":"#b3e0d2"},{"offset":0.0594,"color":"#66c2a5"},{"offset":0.0616,"color":"#b3e0d2"},
  {"offset":0.0966,"color":"#b3e0d2"},{"offset":0.0988,"color":"#66c2a5"},{"offset":0.101,"color":"#b3e0d2"},
  {"offset":0.136,"color":"#b3e0d2"},{"offset":0.1382,"color":"#66c2a5"},{"offset":0.1404,"color":"#b3e0d2"},
  {"offset":0.1754,"color":"#b3e0d2"},{"offset":0.1776,"color":"#66c2a5"},{"offset":0.1798,"color":"#b3e0d2"},
  {"offset":0.2148,"color":"#b3e0d2"},{"offset":0.217,"color":"#66c2a5"},{"offset":0.2192,"color":"#b3e0d2"},
  {"offset":0.2542,"color":"#b3e0d2"},{"offset":0.2564,"color":"#66c2a5"},{"offset":0.2586,"color":"#b3e0d2"},
  {"offset":0.2936,"color":"#b3e0d2"},{"offset":0.2958,"color":"#66c2a5"},{"offset":0.298,"color":"#b3e0d2"},
  {"offset":0.333,"color":"#b3e0d2"},{"offset":0.3352,"color":"#66c2a5"},{"offset":0.3374,"color":"#b3e0d2"},
  {"offset":0.3724,"color":"#b3e0d2"},{"offset":0.3746,"color":"#66c2a5"},{"offset":0.3768,"color":"#b3e0d2"},
  {"offset":0.4118,"color":"#b3e0d2"},{"offset":0.414,"color":"#66c2a5"},{"offset":0.4162,"color":"#b3e0d2"},
  {"offset":0.4512,"color":"#b3e0d2"},{"offset":0.4534,"color":"#66c2a5"},{"offset":0.4556,"color":"#b3e0d2"},
  {"offset":0.4906,"color":"#b3e0d2"},{"offset":0.4928,"color":"#66c2a5"},{"offset":0.495,"color":"#b3e0d2"},
  {"offset":0.53,"color":"#b3e0d2"},{"offset":0.5322,"color":"#66c2a5"},{"offset":0.5344,"color":"#b3e0d2"},
  {"offset":0.5694,"color":"#b3e0d2"},{"offset":0.5716,"color":"#66c2a5"},{"offset":0.5738,"color":"#b3e0d2"},
  {"offset":0.6088,"color":"#b3e0d2"},{"offset":0.611,"color":"#66c2a5"},{"offset":0.6132,"color":"#b3e0d2"},
  {"offset":0.6482,"color":"#b3e0d2"},{"offset":0.6504,"color":"#66c2a5"},{"offset":0.6526,"color":"#b3e0d2"},
  {"offset":0.6876,"color":"#b3e0d2"},{"offset":0.6898,"color":"#66c2a5"},{"offset":0.692,"color":"#b3e0d2"},
  {"offset":0.727,"color":"#b3e0d2"},{"offset":0.7292,"color":"#66c2a5"},{"offset":0.7314,"color":"#b3e0d2"},
  {"offset":0.7664,"color":"#b3e0d2"},{"offset":0.7686,"color":"#66c2a5"},{"offset":0.7708,"color":"#b3e0d2"},
  {"offset":0.8058,"color":"#b3e0d2"},{"offset":0.808,"color":"#66c2a5"},{"offset":0.8102,"color":"#b3e0d2"},
  {"offset":0.8452,"color":"#b3e0d2"},{"offset":0.8474,"color":"#66c2a5"},{"offset":0.8496,"color":"#b3e0d2"},
  {"offset":0.8846,"color":"#b3e0d2"},{"offset":0.8868,"color":"#66c2a5"},{"offset":0.889,"color":"#b3e0d2"},
  {"offset":0.924,"color":"#b3e0d2"},{"offset":0.9262,"color":"#66c2a5"},{"offset":0.9284,"color":"#b3e0d2"},
  {"offset":0.9634,"color":"#b3e0d2"},{"offset":0.9656,"color":"#66c2a5"},{"offset":0.9678,"color":"#b3e0d2"},
  {"offset":1,"color":"#b3e0d2"}]}},
       "encoding": {"y": {"field": "lo", "type": "quantitative", "scale": {"domain": [-0.0455, 0.527], "nice": false, "zero": false, "clamp": true}, "axis": null}, "y2": {"field": "hi"}}},
      {"mark": {"type": "area", "fill": "#fc8d62", "opacity": 0.5, "clip": true, "interpolate": "monotone"},
       "encoding": {"y": {"field": "nlo", "type": "quantitative", "axis": null}, "y2": {"field": "nhi"}}}
     ]},
     {"layer": [
      {"mark": {"type": "line", "clip": true, "interpolate": "monotone", "color": "#66c2a5", "strokeWidth": 1.4, "strokeDash": [5, 3]},
       "encoding": {"y": {"field": "dlo", "type": "quantitative", "scale": {"domain": [-0.0455, 0.527], "nice": false, "zero": false},
         "axis": {"title": "xT3(x)", "orient": "left", "values": [0, 0.1, 0.2, 0.3, 0.4, 0.5], "format": ".1f", "labelOverlap": false, "titleX": -41, "titleY": 126, "titleBaseline": "middle", "titleAngle": -90}}}},
      {"mark": {"type": "line", "clip": true, "interpolate": "monotone", "color": "#66c2a5", "strokeWidth": 1.4, "strokeDash": [5, 3]}, "encoding": {"y": {"field": "dhi", "type": "quantitative"}}},
      {"mark": {"type": "line", "clip": true, "interpolate": "monotone", "color": "#66c2a5", "strokeWidth": 1.7}, "encoding": {"y": {"field": "c", "type": "quantitative"}}},
      {"mark": {"type": "line", "clip": true, "interpolate": "monotone", "color": "#fc8d62", "strokeWidth": 0.9}, "encoding": {"y": {"field": "nlo", "type": "quantitative"}}},
      {"mark": {"type": "line", "clip": true, "interpolate": "monotone", "color": "#fc8d62", "strokeWidth": 0.9}, "encoding": {"y": {"field": "nhi", "type": "quantitative"}}},
      {"mark": {"type": "line", "clip": true, "interpolate": "monotone", "color": "#fc8d62", "strokeWidth": 1.4, "strokeDash": [5, 3]}, "encoding": {"y": {"field": "ndlo", "type": "quantitative"}}},
      {"mark": {"type": "line", "clip": true, "interpolate": "monotone", "color": "#fc8d62", "strokeWidth": 1.4, "strokeDash": [5, 3]}, "encoding": {"y": {"field": "ndhi", "type": "quantitative"}}},
      {"mark": {"type": "line", "clip": true, "interpolate": "monotone", "color": "#fc8d62", "strokeWidth": 1.7}, "encoding": {"y": {"field": "n", "type": "quantitative"}}},
      {"data": {"values": []}, "mark": {"type": "point", "filled": true, "opacity": 1},
       "encoding": {"color": {"datum": "CT3 (68 c.l.+1σ)", "type": "nominal",
         "scale": {"domain": ["CT3 (68 c.l.+1σ)", "NNPDF31_nlo_as_0118 (68 c.l.+1σ)"], "range": ["#b3e0d2", "#fdc6b0"]},
         "legend": {"title": null, "orient": "none", "legendX": 277, "legendY": 5,
           "encode": {"symbols": {"update": {"stroke": {"signal": "indexof(datum.value, 'CT3') === 0 ? '#66c2a5' : '#fc8d62'"}}}}}}}}
     ]}
    ],
    "resolve": {"scale": {"y": "independent"}}
   }
  ]
 }
]
}
